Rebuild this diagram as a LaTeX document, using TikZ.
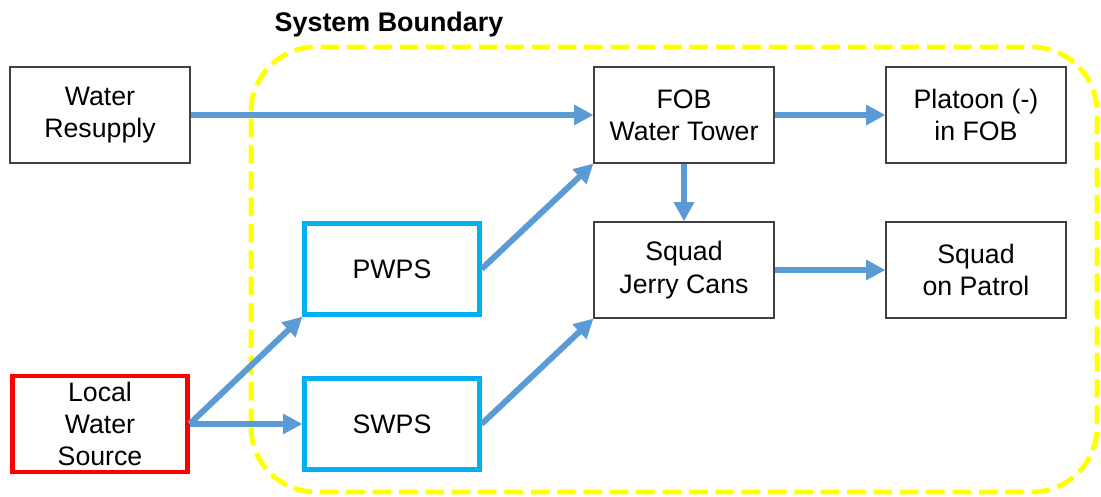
\documentclass[tikz,border=0pt]{standalone}
\usepackage{fontspec}
\setmainfont{Liberation Sans}
\usetikzlibrary{arrows.meta}

\definecolor{flowblue}{RGB}{91,155,213}
\definecolor{procblue}{RGB}{0,176,240}
\definecolor{boundyellow}{RGB}{255,255,0}

\tikzset{
    unit/.style={draw=black!75, line width=0.6pt, minimum width=3.6cm, minimum height=1.92cm,
        align=center, font=\fontsize{15.2}{18.4}\selectfont},
    proc/.style={unit, draw=procblue, line width=2.4pt, minimum width=3.5cm, minimum height=1.82cm},
    source/.style={unit, draw=red, line width=2.4pt, minimum width=3.5cm, minimum height=1.82cm},
    flow/.style={draw=flowblue, line width=3.4pt, -{Triangle[length=11pt,width=11pt]}}
}

\begin{document}
\begin{tikzpicture}
    \useasboundingbox (0, 0) rectangle (22.02, 9.94);

    % system boundary
    \draw [boundyellow, line width=2.8pt, dash pattern=on 10.5pt off 4.5pt, rounded corners=1.3cm]
        (5.02, 0.1) rectangle (21.94, 9.0);
    \node (boundary) at (7.78, 9.44) {\fontsize{15.3}{18}\selectfont\bfseries System Boundary};

    \node [unit] (resupply) at (2.0, 7.64) {Water\\Resupply};
    \node [unit] (tower) at (13.68, 7.64) {FOB\\Water Tower};
    \node [unit] (platoon) at (19.52, 7.64) {Platoon (-)\\in FOB};
    \node [unit] (cans) at (13.68, 4.54) {Squad\\Jerry Cans};
    \node [unit] (patrol) at (19.52, 4.54) {Squad\\on Patrol};

    \node [proc] (pwps) at (7.84, 4.56) {PWPS};
    \node [proc] (swps) at (7.84, 1.46) {SWPS};
    \node [source] (local) at (2.0, 1.46) {Local\\Water\\Source};

    \draw [flow] (resupply.east) -- (tower.west);
    \draw [flow] (tower.east) -- (platoon.west);
    \draw [flow] (tower.south) -- (cans.north);
    \draw [flow] (cans.east) -- (patrol.west);
    \draw [flow] (pwps.east) -- (tower.south west);
    \draw [flow] (swps.east) -- (cans.south west);
    \draw [flow] (local.east) -- (pwps.south west);
    \draw [flow] (local.east) -- (swps.west);
\end{tikzpicture}
\end{document}
